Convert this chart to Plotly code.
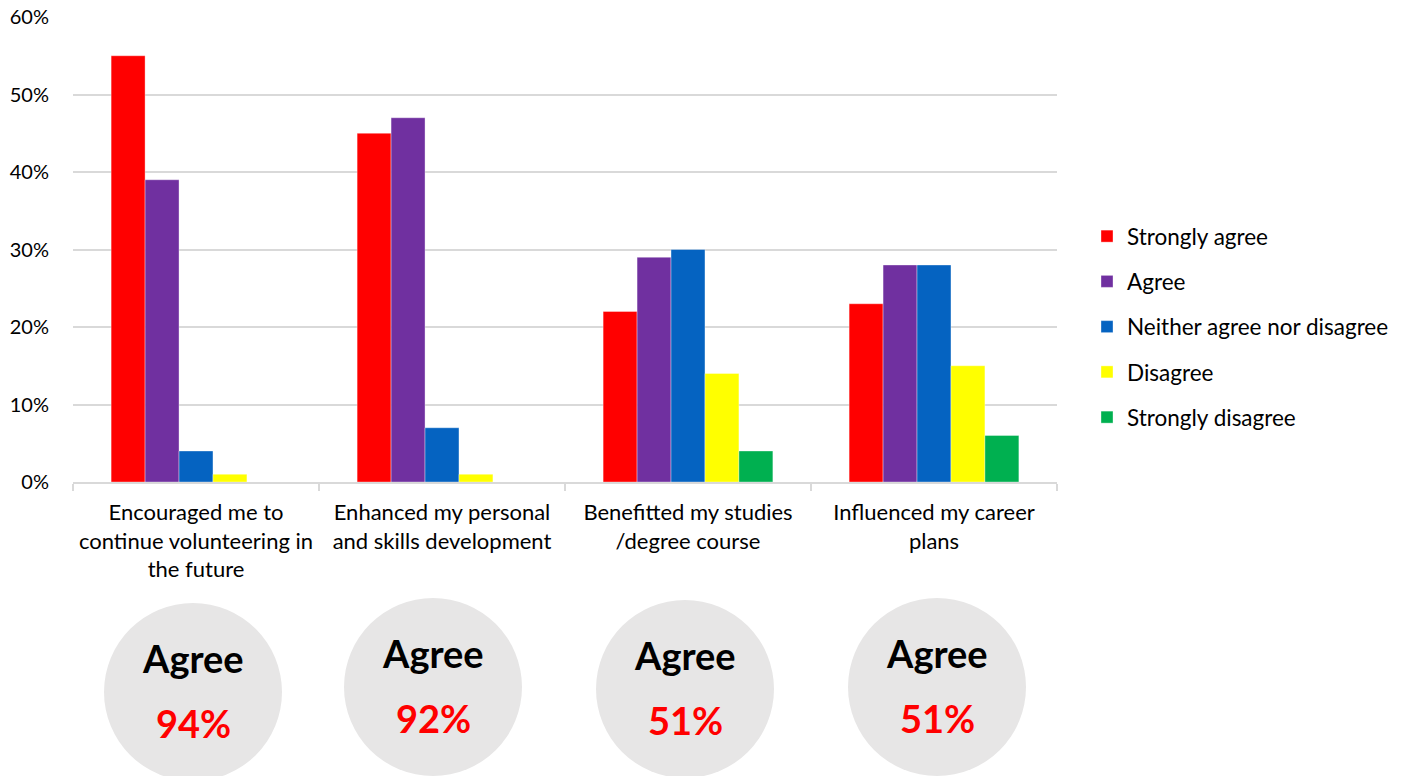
import plotly.graph_objects as go

categories = [
    "Encouraged me to<br>continue volunteering in<br>the future",
    "Enhanced my personal<br>and skills development",
    "Benefitted my studies<br>/degree course",
    "Influenced my career<br>plans",
]
series_names = ["Strongly agree", "Agree", "Neither agree nor disagree", "Disagree", "Strongly disagree"]
strongly_agree = [55, 45, 22, 23]
agree = [39, 47, 29, 28]
neither = [4, 7, 30, 28]
disagree = [1, 1, 14, 15]
strongly_disagree = [0, 0, 4, 6]
colors = ["#FF0000", "#7030A0", "#0563C1", "#FFFF00", "#00B050"]
y_ticks = [0, 10, 20, 30, 40, 50, 60]
y_tick_labels = [f"{v}%" for v in y_ticks]

W, H = 1405, 776
L, R, T, B = 73, 1057, 17, 482  # plot area in pixels


def px(x):
    return (x - L) / (R - L)


def py(y):
    return (B - y) / (B - T)


fig = go.Figure()
for name, vals, col in zip(series_names,
                           [strongly_agree, agree, neither, disagree, strongly_disagree],
                           colors):
    fig.add_trace(go.Bar(
        x=categories, y=vals, name=name, legendgroup=name,
        marker=dict(color=col, line=dict(color="rgba(255,255,255,0.35)", width=1)),
    ))

# summary circles
circle_centers = [(193, 692), (433, 687), (685, 689), (937, 687)]
r = 89
shapes = []
annotations = []
for i, (cx, cy) in enumerate(circle_centers):
    shapes.append(dict(type="circle", xref="paper", yref="paper",
                       x0=px(cx - r), x1=px(cx + r), y0=py(cy + r), y1=py(cy - r),
                       fillcolor="#E7E6E6", line=dict(width=0), layer="below"))
    total = strongly_agree[i] + agree[i]
    annotations.append(dict(xref="paper", yref="paper", x=px(cx), y=py(cy - 34),
                            text="<b>Agree</b>", showarrow=False,
                            font=dict(size=38, color="#000000", family="Lato"),
                            xanchor="center", yanchor="middle"))
    annotations.append(dict(xref="paper", yref="paper", x=px(cx), y=py(cy + 31),
                            text=f"<b>{total}%</b>", showarrow=False,
                            font=dict(size=38, color="#FF0000", family="Lato"),
                            xanchor="center", yanchor="middle"))

fig.update_layout(
    width=W, height=H,
    margin=dict(l=L, r=W - R, t=T, b=H - B, autoexpand=False),
    paper_bgcolor="white", plot_bgcolor="white",
    font=dict(family="Lato", color="#000000"),
    barmode="group", bargap=0.31, bargroupgap=0,
    shapes=shapes, annotations=annotations,
    legend=dict(x=px(1087), y=py(327), xanchor="left", yanchor="middle",
                font=dict(size=22.5, color="#000000"), tracegroupgap=13,
                traceorder="grouped", bgcolor="rgba(0,0,0,0)"),
    xaxis=dict(showline=True, linecolor="#D9D9D9", linewidth=1.5,
               ticks="outside", tickson="boundaries", ticklen=7, tickcolor="#D9D9D9",
               tickwidth=1.5, tickfont=dict(size=22, color="#000000"), showgrid=False,
               ticklabelstandoff=10),
    yaxis=dict(range=[0, 60], tickmode="array", tickvals=y_ticks, ticktext=y_tick_labels,
               showgrid=True, gridcolor="#D9D9D9", gridwidth=1.5,
               zeroline=False, showline=False,
               tickfont=dict(size=20, color="#000000"), ticklabelstandoff=23),
)

fig.write_html("out.html")
